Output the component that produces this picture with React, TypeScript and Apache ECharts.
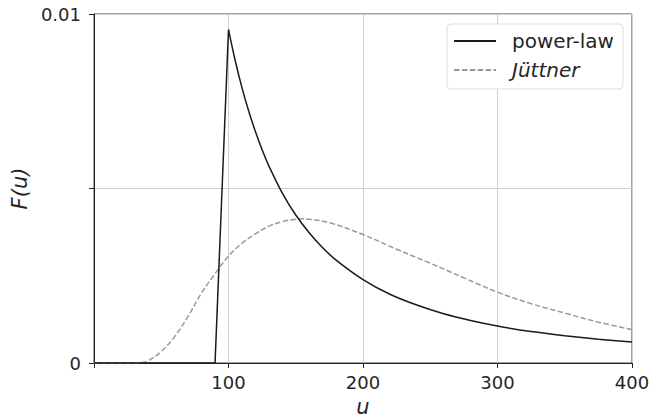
import React, { useEffect, useRef } from "react";
import * as echarts from "echarts";

const riseU = [0, 90, 100];
const riseF = [0, 0, 0.00955];
const decayU = [100, 105, 110, 115, 120, 125, 130, 140, 150, 160, 170, 180, 200, 220, 240, 260, 280, 300, 325, 350, 375, 400];
const decayF = [0.00955, 0.00866, 0.00789, 0.00722, 0.00663, 0.00611, 0.00565, 0.00487, 0.00424, 0.00373, 0.0033, 0.00295, 0.00239, 0.00197, 0.00166, 0.00141, 0.00122, 0.00106, 0.0009, 0.00078, 0.00068, 0.0006];

const juttU = [0, 30, 35, 40, 50, 60, 70, 80, 90, 100, 110, 120, 130, 140, 150, 155, 160, 175, 200, 225, 250, 275, 300, 325, 350, 375, 400];
const juttF = [0, 0, 0.00001, 0.00006, 0.00033, 0.00076, 0.00134, 0.00201, 0.00256, 0.00306, 0.00343, 0.0037, 0.00392, 0.00405, 0.00412, 0.00413, 0.00412, 0.00402, 0.00368, 0.00326, 0.00286, 0.00244, 0.00203, 0.0017, 0.00143, 0.00117, 0.00096];

const xTicks = [0, 100, 200, 300, 400];
const yLabels: Record<string, string> = { "0": "0", "0.01": "0.01" };
const seriesNames = ["power-law", "Jüttner"];

const FONT = "DejaVu Sans";
const INK = "#262626";

export default function App() {
  const ref = useRef<HTMLDivElement>(null);
  useEffect(() => {
    const chart = echarts.init(ref.current!, null, { renderer: "svg" });
    chart.setOption({
      animation: false,
      grid: {
        left: 94,
        top: 14,
        right: 18,
        bottom: 56,
        containLabel: false,
        outerBoundsMode: "none",
        show: true,
        borderColor: "#444",
        borderWidth: 1,
      },
      legend: {
        data: seriesNames,
        orient: "vertical",
        left: 447,
        top: 24,
        padding: [7, 9, 9, 6],
        backgroundColor: "#fff",
        borderColor: "#dcdcdc",
        borderWidth: 1,
        borderRadius: 4,
        itemWidth: 42,
        itemHeight: 20,
        itemGap: 9,
        itemStyle: { opacity: 0 },
        textStyle: {
          fontFamily: FONT,
          fontSize: 20,
          color: INK,
          padding: [0, 0, 0, 11],
          rich: { i: { fontStyle: "italic", fontFamily: FONT, fontSize: 20, color: INK } },
        },
        formatter: (name: string) => (name === "Jüttner" ? "{i|Jüttner}" : name),
      },
      xAxis: {
        type: "value",
        min: xTicks[0],
        max: xTicks[xTicks.length - 1],
        interval: 100,
        name: "u",
        nameLocation: "middle",
        nameGap: 33,
        nameTextStyle: { fontFamily: FONT, fontSize: 21, fontStyle: "italic", color: INK },
        axisLine: { show: true, lineStyle: { color: INK, width: 1 } },
        axisTick: { show: true, inside: false, length: 5, lineStyle: { color: INK } },
        axisLabel: {
          fontFamily: FONT,
          fontSize: 18,
          color: INK,
          margin: 10,
          formatter: (v: number) => (v === 0 ? "" : String(v)),
        },
        splitLine: { show: true, lineStyle: { color: "#cfcfcf", width: 1 } },
      },
      yAxis: {
        type: "value",
        min: 0,
        max: 0.01,
        interval: 0.005,
        name: "F(u)",
        nameLocation: "middle",
        nameGap: 62,
        nameTextStyle: { fontFamily: FONT, fontSize: 21, fontStyle: "italic", color: INK },
        axisLine: { show: true, lineStyle: { color: INK, width: 1 } },
        axisTick: { show: true, inside: false, length: 5, lineStyle: { color: INK } },
        axisLabel: {
          fontFamily: FONT,
          fontSize: 18,
          color: INK,
          margin: 13,
          formatter: (v: number) => yLabels[String(+v.toFixed(4))] ?? "",
        },
        splitLine: { show: true, lineStyle: { color: "#cfcfcf", width: 1 } },
      },
      series: [
        {
          name: seriesNames[0],
          type: "line",
          symbol: "none",
          data: riseU.map((u, i) => [u, riseF[i]]),
          lineStyle: { color: "#1a1a1a", width: 1.5 },
          itemStyle: { color: "#1a1a1a" },
          z: 3,
        },
        {
          name: seriesNames[0],
          type: "line",
          symbol: "none",
          smooth: 0.3,
          data: decayU.map((u, i) => [u, decayF[i]]),
          lineStyle: { color: "#1a1a1a", width: 1.5 },
          itemStyle: { color: "#1a1a1a" },
          z: 3,
        },
        {
          name: seriesNames[1],
          type: "line",
          symbol: "none",
          smooth: 0.4,
          data: juttU.map((u, i) => [u, juttF[i]]),
          lineStyle: { color: "#9a9a9a", width: 1.5, type: [5.5, 2.4] },
          itemStyle: { color: "#9a9a9a" },
          z: 2,
        },
      ],
    });
    return () => chart.dispose();
  }, []);
  return <div ref={ref} style={{ width: 650, height: 419, position: "absolute", left: 0, top: 0 }} />;
}
